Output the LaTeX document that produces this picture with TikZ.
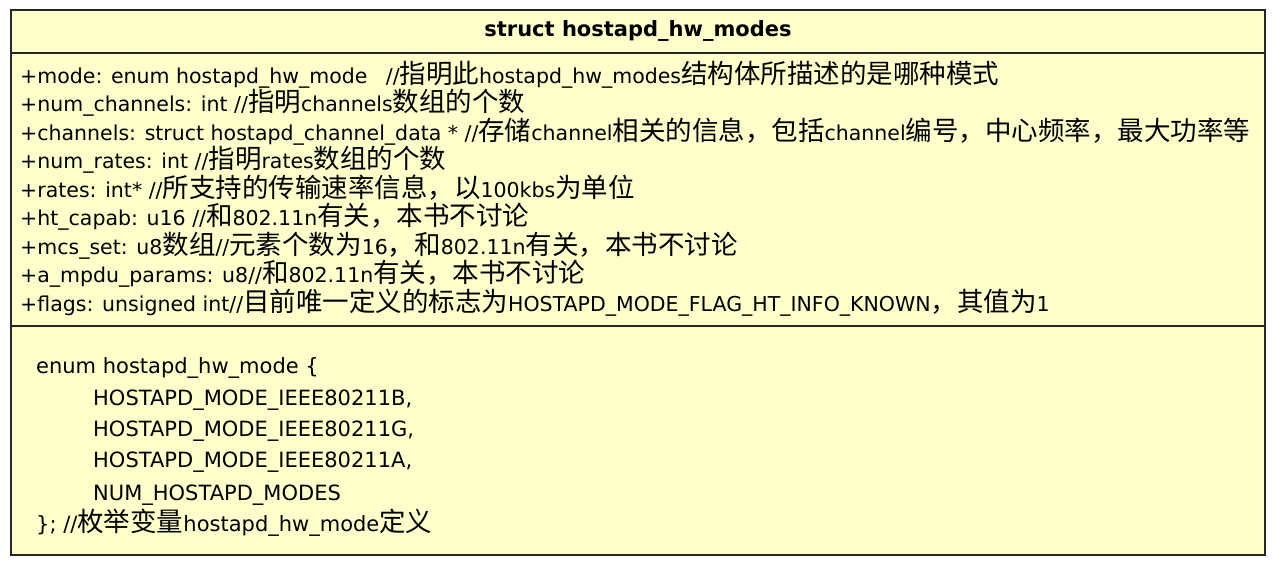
\documentclass[tikz,border=0pt]{standalone}
\usepackage{fontspec}
\setmainfont{DejaVu Sans}
\newfontfamily\cjk{Noto Sans CJK SC}
\newcommand{\zh}[1]{{\cjk\fontsize{26.5}{28}\selectfont #1}}
\definecolor{umlyellow}{RGB}{255,255,204}

\begin{document}
\begin{tikzpicture}[
    x=1pt, y=-1pt,
    umlbox/.style={fill=umlyellow, draw=black!85, line width=1.6pt},
    sepline/.style={draw=black!85, line width=1.6pt},
    attr/.style={anchor=base west, inner sep=0pt, font=\fontsize{20.5}{28}\selectfont},
    enumtxt/.style={attr, font=\fontsize{21}{28}\selectfont},
    title/.style={font=\fontsize{21}{28}\selectfont\bfseries},
]
\useasboundingbox (0,0) rectangle (1275,565);
% class box and compartments
\draw[umlbox] (11,10) rectangle (1265,555);
\draw[sepline] (11,53) -- (1265,53);
\draw[sepline] (11,326) -- (1265,326);
\node[title] (name) at (638,31) {struct hostapd\_hw\_modes};
% attributes
\node[attr] (m1) at (20,83) {+mode: enum hostapd\_hw\_mode\hspace{0.9em}//\zh{指明此}hostapd\_hw\_modes\zh{结构体所描述的是哪种模式}};
\node[attr] (m2) at (20,111.5) {+num\_channels: int //\zh{指明}channels\zh{数组的个数}};
\node[attr] (m3) at (20,140) {+channels: struct hostapd\_channel\_data * //\zh{存储}channel\zh{相关的信息，包括}channel\zh{编号，中心频率，最大功率等}};
\node[attr] (m4) at (20,168.5) {+num\_rates: int //\zh{指明}rates\zh{数组的个数}};
\node[attr] (m5) at (20,197) {+rates: int* //\zh{所支持的传输速率信息，以}100kbs\zh{为单位}};
\node[attr] (m6) at (20,225.5) {+ht\_capab: u16 //\zh{和}802.11n\zh{有关，本书不讨论}};
\node[attr] (m7) at (20,254) {+mcs\_set: u8\zh{数组}//\zh{元素个数为}16\zh{，和}802.11n\zh{有关，本书不讨论}};
\node[attr] (m8) at (20,282.5) {+a\_mpdu\_params: u8//\zh{和}802.11n\zh{有关，本书不讨论}};
\node[attr] (m9) at (20,311) {+flags: unsigned int//\zh{目前唯一定义的标志为}HOSTAPD\_MODE\_FLAG\_HT\_INFO\_KNOWN\zh{，其值为}1};
% enum definition
\node[enumtxt] (e0) at (36,373) {enum hostapd\_hw\_mode \{};
\node[enumtxt] (e1) at (93,405) {HOSTAPD\_MODE\_IEEE80211B,};
\node[enumtxt] (e2) at (93,436) {HOSTAPD\_MODE\_IEEE80211G,};
\node[enumtxt] (e3) at (93,467) {HOSTAPD\_MODE\_IEEE80211A,};
\node[enumtxt] (e4) at (93,500) {NUM\_HOSTAPD\_MODES};
\node[enumtxt] (e5) at (36,531) {\}; //\zh{枚举变量}hostapd\_hw\_mode\zh{定义}};
\end{tikzpicture}
\end{document}
